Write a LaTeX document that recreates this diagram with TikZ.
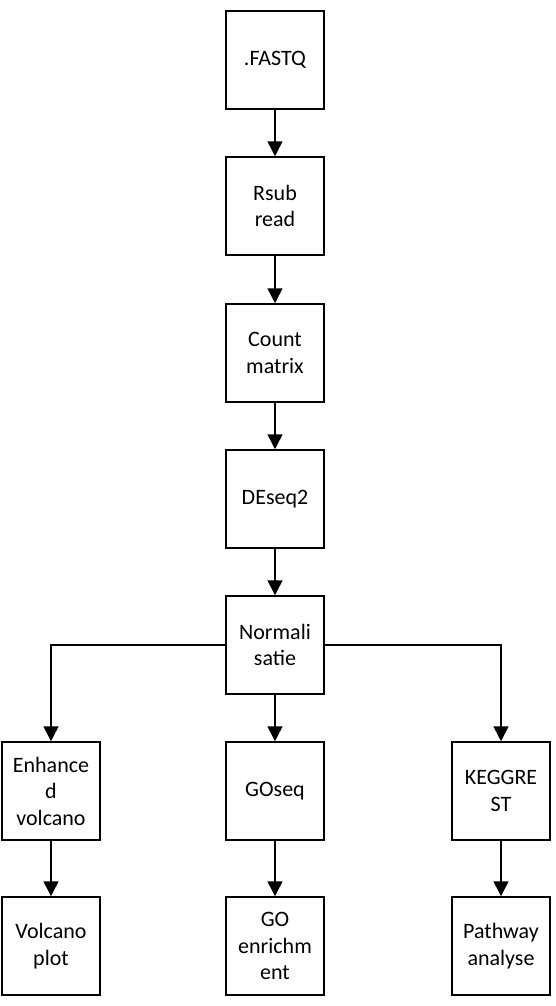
\documentclass[tikz,border=0pt]{standalone}
\usepackage{fontspec}
\setmainfont{Carlito}
\usetikzlibrary{arrows.meta}
\begin{document}
\begin{tikzpicture}[x=1pt,y=-1pt,
  box/.style={draw=black,line width=1.5pt,minimum width=98pt,minimum height=98pt,inner sep=0pt,align=center,font=\fontsize{22}{26.5}\selectfont},
  arr/.style={line width=1.5pt,-{Triangle[width=15pt,length=15pt]}}]
\useasboundingbox (0,0) rectangle (555,1006);
\node[box] (fastq) at (275,60) {.FASTQ};
\node[box] (rsub) at (275,206) {Rsub\\read};
\node[box] (count) at (275,353) {Count\\matrix};
\node[box] (deseq) at (275,499) {DEseq2};
\node[box] (norm) at (275,645) {Normali\\satie};
\node[box] (enh) at (51,791) {Enhance\\d\\volcano};
\node[box] (goseq) at (275,791) {GOseq};
\node[box] (kegg) at (501,791) {KEGGRE\\ST};
\node[box] (volc) at (51,946) {Volcano\\plot};
\node[box] (goenr) at (275,946) {GO\\enrichm\\ent};
\node[box] (path) at (501,946) {Pathway\\analyse};
\draw[arr] (fastq) -- (rsub);
\draw[arr] (rsub) -- (count);
\draw[arr] (count) -- (deseq);
\draw[arr] (deseq) -- (norm);
\draw[arr] (norm) -- (goseq);
\draw[arr] (norm.west) -| (enh.north);
\draw[arr] (norm.east) -| (kegg.north);
\draw[arr] (enh) -- (volc);
\draw[arr] (goseq) -- (goenr);
\draw[arr] (kegg) -- (path);
\end{tikzpicture}
\end{document}
